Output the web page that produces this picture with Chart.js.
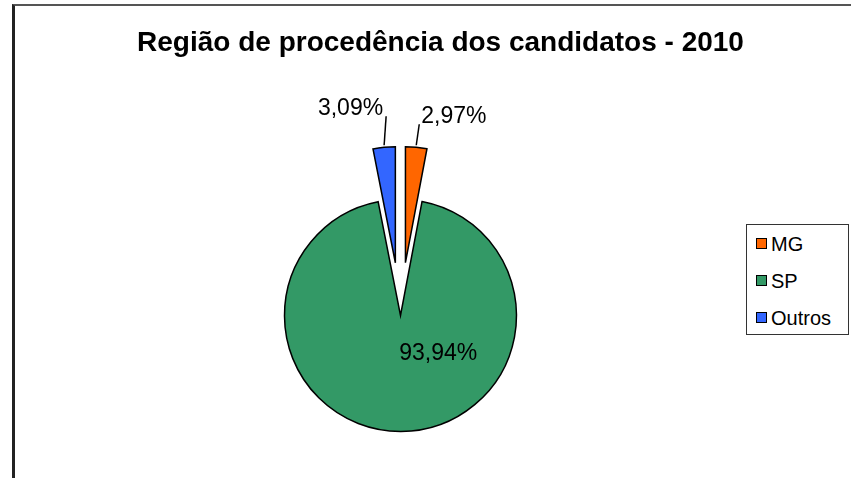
<!DOCTYPE html>
<html>
<head>
<meta charset="utf-8">
<script src="https://cdn.jsdelivr.net/npm/chart.js@4.4.1/dist/chart.umd.min.js"></script>
<style>
    body { margin: 0; background: #fff; font-family: "Liberation Sans", Arial, sans-serif; }
    #wrap { position: relative; width: 851px; height: 478px; overflow: hidden; }
    #frame { position: absolute; left: 12px; top: 4px; right: -10px; bottom: -10px;
             border-top: 2px solid #555; border-left: 3px solid #222; }
    #title { position: absolute; left: 0; width: 881px; top: 28px; text-align: center;
             font-weight: bold; font-size: 28px; line-height: 28px; color: #000; }
    #legend { position: absolute; left: 746px; top: 224px; width: 101px; height: 109px;
              border: 1px solid #333; background: #fff; }
    .item { height: 37px; display: flex; align-items: center; font-size: 20px; line-height: 20px; }
    .swatch { width: 9px; height: 9px; border: 1.5px solid #000; margin: 0 4px 0 9px; }
    canvas { position: absolute; left: 0; top: 0; }
</style>
</head>
<body>
<div id="wrap">
    <div id="frame"></div>
    <canvas id="pieChart" width="851" height="478"></canvas>
    <div id="title">Região de procedência dos candidatos - 2010</div>
    <div id="legend"></div>
</div>
<script>
const labels = ['MG', 'SP', 'Outros'];
const shares = [2.97, 93.94, 3.09];
const colors = ['#FF6600', '#339966', '#3366FF'];
const percentLabels = shares.map(v => v.toFixed(2).replace('.', ',') + '%');

// how far each slice is pulled out, and where its label goes
const explodeDist = [53, 0, 53];
const leaders = [
    { dx: 3, dy: -23, align: 'left' },
    null,
    { dx: 2, dy: -31, align: 'right' }
];
const insideLabel = { angle: Math.PI / 4, frac: 0.46 };
const labelFont = '23px "Liberation Sans", Arial, sans-serif';

// pulls the small slices out of the pie, like Excel's exploded slices
const explodePlugin = {
    id: 'explode',
    afterDatasetUpdate(chart, args) {
        const meta = chart.getDatasetMeta(args.index);
        meta.data.forEach((arc, i) => {
            const d = explodeDist[i] || 0;
            if (!d) return;
            const mid = (arc.startAngle + arc.endAngle) / 2;
            arc.x += Math.cos(mid) * d;
            arc.y += Math.sin(mid) * d;
        });
    }
};

// percentage labels, with leader lines for the outside ones
const labelPlugin = {
    id: 'sliceLabels',
    afterDatasetsDraw(chart) {
        const ctx = chart.ctx;
        const meta = chart.getDatasetMeta(0);
        ctx.save();
        ctx.font = labelFont;
        ctx.fillStyle = '#000';
        ctx.strokeStyle = '#000';
        ctx.lineWidth = 1.5;
        meta.data.forEach((arc, i) => {
            const mid = (arc.startAngle + arc.endAngle) / 2;
            const lead = leaders[i];
            const text = percentLabels[i];
            if (!lead) {
                const r = arc.outerRadius * insideLabel.frac;
                ctx.textAlign = 'center';
                ctx.textBaseline = 'middle';
                ctx.fillText(text, arc.x + Math.cos(insideLabel.angle) * r, arc.y + Math.sin(insideLabel.angle) * r);
                return;
            }
            const ax = arc.x + Math.cos(mid) * arc.outerRadius;
            const ay = arc.y + Math.sin(mid) * arc.outerRadius;
            const ex = ax + lead.dx;
            const ey = ay + lead.dy;
            ctx.beginPath();
            ctx.moveTo(ax, ay - 2);
            ctx.lineTo(ex, ey);
            ctx.stroke();
            ctx.textBaseline = 'alphabetic';
            ctx.textAlign = lead.align;
            ctx.fillText(text, lead.align === 'left' ? ex + 2 : ex - 3, ey - 1);
        });
        ctx.restore();
    }
};

const legendDiv = document.getElementById('legend');
labels.forEach((name, i) => {
    legendDiv.innerHTML += `<div class="item"><span class="swatch" style="background:${colors[i]}"></span>${name}</div>`;
});

const ctx = document.getElementById('pieChart').getContext('2d');
const chart = new Chart(ctx, {
    type: 'pie',
    data: {
        labels: labels,
        datasets: [{
            data: shares,
            backgroundColor: colors,
            borderColor: '#000',
            borderWidth: 1.5,
            borderJoinStyle: 'miter',
            radius: 116,
            clip: false
        }]
    },
    options: {
        responsive: false,
        animation: false,
        events: [],
        layout: { padding: { left: 0, right: 50, top: 153, bottom: 0 } },
        plugins: {
            legend: { display: false },
            tooltip: { enabled: false }
        }
    },
    plugins: [explodePlugin, labelPlugin]
});
</script>
</body>
</html>
